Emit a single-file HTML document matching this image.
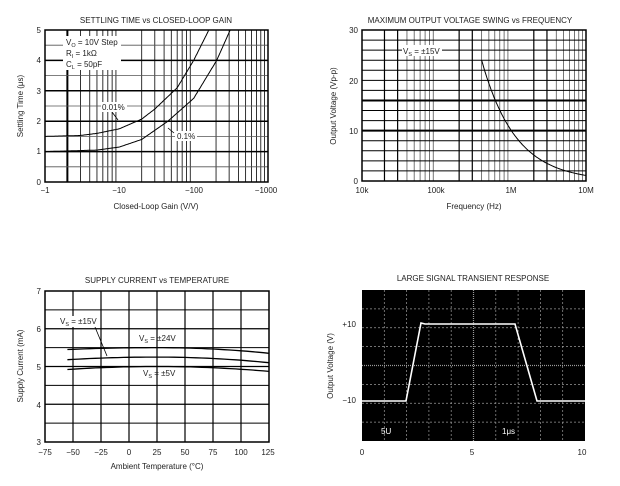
<!DOCTYPE html>
<html><head><meta charset="utf-8"><style>
body{margin:0;background:#fff;}
svg{display:block;font-family:"Liberation Sans",sans-serif;}
text{fill:#222;}
</style></head><body>
<svg id="s" width="620" height="486" viewBox="0 0 620 486">
<rect width="620" height="486" fill="#fff"/>
<g id="g"></g>
<text x="156" y="23" font-size="8" text-anchor="middle">SETTLING TIME vs CLOSED-LOOP GAIN</text>
<text x="41" y="33" font-size="8" text-anchor="end">5</text>
<text x="41" y="63" font-size="8" text-anchor="end">4</text>
<text x="41" y="94" font-size="8" text-anchor="end">3</text>
<text x="41" y="124" font-size="8" text-anchor="end">2</text>
<text x="41" y="154" font-size="8" text-anchor="end">1</text>
<text x="41" y="185" font-size="8" text-anchor="end">0</text>
<text x="45" y="193" font-size="8" text-anchor="middle">−1</text>
<text x="119" y="193" font-size="8" text-anchor="middle">−10</text>
<text x="194" y="193" font-size="8" text-anchor="middle">−100</text>
<text x="266" y="193" font-size="8" text-anchor="middle">−1000</text>
<text x="156" y="209" font-size="8" text-anchor="middle">Closed-Loop Gain (V/V)</text>
<text transform="translate(23,106) rotate(-90)" font-size="8" text-anchor="middle">Settling Time (μs)</text>
<rect x="63" y="36" width="58" height="34" fill="#fff"/>
<text x="66" y="45" font-size="8">V<tspan font-size="5.5" dy="2">O</tspan><tspan dy="-2"> = 10V Step</tspan></text>
<text x="66" y="56" font-size="8">R<tspan font-size="5.5" dy="2">I</tspan><tspan dy="-2"> = 1kΩ</tspan></text>
<text x="66" y="67" font-size="8">C<tspan font-size="5.5" dy="2">L</tspan><tspan dy="-2"> = 50pF</tspan></text>
<rect x="101" y="102" width="26" height="10" fill="#fff"/>
<text x="102" y="110" font-size="8">0.01%</text>
<rect x="175" y="131" width="22" height="10" fill="#fff"/>
<text x="177" y="139" font-size="8">0.1%</text>
<text x="470" y="23" font-size="8" text-anchor="middle">MAXIMUM OUTPUT VOLTAGE SWING vs FREQUENCY</text>
<text x="358" y="33" font-size="8" text-anchor="end">30</text>
<text x="358" y="84" font-size="8" text-anchor="end">20</text>
<text x="358" y="134" font-size="8" text-anchor="end">10</text>
<text x="358" y="184" font-size="8" text-anchor="end">0</text>
<text x="362" y="193" font-size="8" text-anchor="middle">10k</text>
<text x="436" y="193" font-size="8" text-anchor="middle">100k</text>
<text x="511" y="193" font-size="8" text-anchor="middle">1M</text>
<text x="586" y="193" font-size="8" text-anchor="middle">10M</text>
<text x="474" y="209" font-size="8" text-anchor="middle">Frequency (Hz)</text>
<text transform="translate(336,106) rotate(-90)" font-size="8" text-anchor="middle">Output Voltage (Vp-p)</text>
<rect x="402" y="45" width="40" height="11" fill="#fff"/>
<text x="403" y="54" font-size="8">V<tspan font-size="5.5" dy="2">S</tspan><tspan dy="-2"> = ±15V</tspan></text>
<text x="157" y="283" font-size="8" text-anchor="middle">SUPPLY CURRENT vs TEMPERATURE</text>
<text x="41" y="294" font-size="8" text-anchor="end">7</text>
<text x="41" y="332" font-size="8" text-anchor="end">6</text>
<text x="41" y="370" font-size="8" text-anchor="end">5</text>
<text x="41" y="408" font-size="8" text-anchor="end">4</text>
<text x="41" y="445" font-size="8" text-anchor="end">3</text>
<g font-size="8" text-anchor="middle">
<text x="45" y="455">−75</text><text x="73" y="455">−50</text><text x="101" y="455">−25</text><text x="129" y="455">0</text><text x="157" y="455">25</text><text x="185" y="455">50</text><text x="213" y="455">75</text><text x="241" y="455">100</text><text x="268" y="455">125</text>
</g>
<text x="157" y="469" font-size="8" text-anchor="middle">Ambient Temperature (°C)</text>
<text transform="translate(23,366) rotate(-90)" font-size="8" text-anchor="middle">Supply Current (mA)</text>
<rect x="58" y="316" width="42" height="11" fill="#fff"/>
<text x="60" y="324" font-size="8">V<tspan font-size="5.5" dy="2">S</tspan><tspan dy="-2"> = ±15V</tspan></text>
<text x="139" y="341" font-size="8">V<tspan font-size="5.5" dy="2">S</tspan><tspan dy="-2"> = ±24V</tspan></text>
<text x="143" y="376" font-size="8">V<tspan font-size="5.5" dy="2">S</tspan><tspan dy="-2"> = ±5V</tspan></text>
<text x="473" y="281" font-size="8" text-anchor="middle">LARGE SIGNAL TRANSIENT RESPONSE</text>
<text x="356" y="327" font-size="8" text-anchor="end">+10</text>
<text x="356" y="403" font-size="8" text-anchor="end">−10</text>
<text x="362" y="455" font-size="8" text-anchor="middle">0</text>
<text x="472" y="455" font-size="8" text-anchor="middle">5</text>
<text x="582" y="455" font-size="8" text-anchor="middle">10</text>
<text transform="translate(333,366) rotate(-90)" font-size="8" text-anchor="middle">Output Voltage (V)</text>
<g id="g4"></g>
<text x="381" y="434" font-size="8" style="fill:#fff">5U</text>
<text x="502" y="434" font-size="8" style="fill:#fff">1μs</text>
</svg>
<script>
var NS="http://www.w3.org/2000/svg",G=document.getElementById('g'),G4=document.getElementById('g4');
function L(p,x1,y1,x2,y2,w,c,d){var e=document.createElementNS(NS,'line');e.setAttribute('x1',x1);e.setAttribute('y1',y1);e.setAttribute('x2',x2);e.setAttribute('y2',y2);e.setAttribute('stroke',c||'#000');e.setAttribute('stroke-width',w);if(d)e.setAttribute('stroke-dasharray',d);p.appendChild(e);}
function P(p,pts,w,c){var e=document.createElementNS(NS,'polyline');e.setAttribute('points',pts.map(function(a){return a[0].toFixed(1)+','+a[1].toFixed(1)}).join(' '));e.setAttribute('fill','none');e.setAttribute('stroke',c||'#000');e.setAttribute('stroke-width',w);p.appendChild(e);}
function interp(pts,lg){for(var i=0;i<pts.length-1;i++){var a=Math.log10(pts[i][0]),b=Math.log10(pts[i+1][0]);if(lg<=b){var t=(lg-a)/(b-a);return pts[i][1]+(pts[i+1][1]-pts[i][1])*t;}}var n=pts.length;var a=Math.log10(pts[n-2][0]),b=Math.log10(pts[n-1][0]);return pts[n-2][1]+(pts[n-1][1]-pts[n-2][1])*(lg-a)/(b-a);}
var x0=45,x1=268,y0=30,y1=182,dw=(x1-x0)/3;
for(var d=0;d<3;d++)for(var k=2;k<=9;k++){var x=x0+dw*(d+Math.log10(k));L(G,x,y0,x,y1,(d==0&&k==2)?2:0.8,'#000');}
for(var v=0.5;v<5;v+=0.5){var y=y1-v*(y1-y0)/5;L(G,x0,y,x1,y,(v%1==0)?1.5:0.8,(v%1==0)?'#000':'#555');}
var P1=[[1,1.5],[3,1.53],[5,1.6],[10,1.75],[20,2.07],[30,2.4],[60,3.1],[100,4],[160,5]];
var P2=[[1,1.0],[5,1.05],[10,1.15],[20,1.4],[45,2.0],[100,2.75],[204,4],[310,5]];
var c1=[],c2=[];for(var i=0;i<=300;i++){var lg=i/300*2.5;var x=x0+dw*lg;var a=interp(P1,lg),b=interp(P2,lg);if(a<=5.01)c1.push([x,y1-a*30.4]);if(b<=5.01)c2.push([x,y1-b*30.4]);}
P(G,c1,1);P(G,c2,1);
L(G,112,112,118,120,0.8);L(G,168,128,174,133,0.8);
function box(x0,y0,x1,y1){var r=document.createElementNS(NS,'rect');r.setAttribute('x',x0);r.setAttribute('y',y0);r.setAttribute('width',x1-x0);r.setAttribute('height',y1-y0);r.setAttribute('fill','none');r.setAttribute('stroke','#000');r.setAttribute('stroke-width',1.5);G.appendChild(r);}
box(x0,y0,x1,y1);
x0=362;x1=586;y0=30;y1=181;dw=(x1-x0)/3;
for(var d=0;d<3;d++)for(var k=2;k<=9;k++){var x=x0+dw*(d+Math.log10(k));L(G,x,y0,x,y1,(k==2||k==3)?1.2:0.8,(k<=3)?'#000':'#555');}
for(var v=2;v<30;v+=2){var y=y1-v*(y1-y0)/30;L(G,x0,y,x1,y,(v==10||v==16)?2:1,'#000');}
var c3=[];for(var i=0;i<=100;i++){var lf=5.602+i/100*1.398;var f=Math.pow(10,lf);var V=24*Math.pow(4e5/f,0.955);c3.push([x0+dw*(lf-4),y1-V*(y1-y0)/30]);}
P(G,c3,1);
box(x0,y0,x1,y1);
x0=45;x1=269;y0=291;y1=442;
for(var k=1;k<8;k++){var x=x0+k*(x1-x0)/8;L(G,x,y0,x,y1,1.2);}
for(var v=3.5;v<7;v+=0.5){var y=y1-(v-3)*(y1-y0)/4;L(G,x0,y,x1,y,(v%1==0)?1.2:1,'#000');}
function cur(a,m,b){var p=[];for(var t=-55;t<=125;t+=5){var v=t<25?m-(m-a)*Math.pow((25-t)/80,2):m-(m-b)*Math.pow((t-25)/100,2);p.push([x0+(t+75)*(x1-x0)/200,y1-(v-3)*(y1-y0)/4]);}return p;}
P(G,cur(5.45,5.5,5.35),1.3);P(G,cur(5.18,5.25,5.1),1.3);P(G,cur(4.92,5.0,4.87),1.3);
L(G,95,327,107,356,0.8);
box(x0,y0,x1,y1);
x0=362;x1=585;y0=290;y1=441;
var b=document.createElementNS(NS,'rect');b.setAttribute('x',x0);b.setAttribute('y',y0);b.setAttribute('width',x1-x0);b.setAttribute('height',y1-y0);b.setAttribute('fill','#000');G4.appendChild(b);
for(var k=1;k<10;k++){var x=x0+k*(x1-x0)/10;L(G4,x,y0,x,y1,k==5?1.2:0.7,'#999',k==5?'1,1':'2,2');}
for(var k=1;k<8;k++){var y=y0+k*(y1-y0)/8;L(G4,x0,y,x1,y,k==4?1.2:0.7,'#999',k==4?'1,1':'2,2');}
P(G4,[[362,401],[406,401],[421,323],[425,324],[515,324],[537,401],[585,401]],1.6,'#fff');
</script>
</body></html>
